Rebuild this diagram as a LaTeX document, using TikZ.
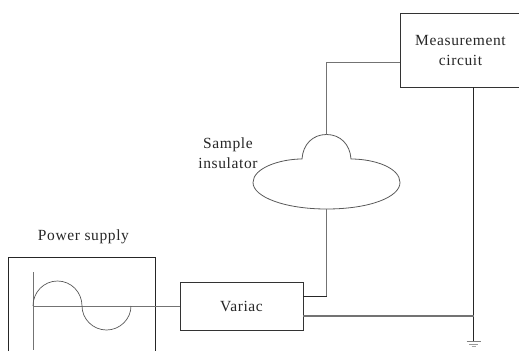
\documentclass[tikz,border=0pt]{standalone}
\usepackage{fontspec}
\setmainfont[LetterSpace=4]{Liberation Serif}
\tikzset{
  px/.style={x=1pt,y=-1pt},
  dk/.style={draw=black!85,line width=0.8pt},
  gy/.style={draw=black!55,line width=0.9pt},
  lbl/.style={font=\fontsize{15.5}{20.5}\selectfont,text=black!85,align=center,inner sep=0pt}
}
\begin{document}
\begin{tikzpicture}[px]
\useasboundingbox (0,0) rectangle (519,351);
\clip (0,0) rectangle (519,351);
\node[lbl] (ps) at (83.5,237) {Power supply};
\node[lbl] (si) at (228,153) {Sample\\insulator};
% power supply box, cut off by the lower edge
\coordinate (psbl) at (8.5,351);
\coordinate (psbr) at (155.5,351);
\draw[dk] (psbl) |- (155.5,257.5) -- (psbr);
% variac and measurement
\node[draw=black!80,line width=0.9pt,minimum width=123pt,minimum height=48pt,inner sep=0pt,lbl] (var) at (241.5,306) {Variac};
\node[draw=black!80,line width=0.9pt,minimum width=130pt,minimum height=74pt,inner sep=0pt,lbl] (meas) at (465.5,50) {};
\node[lbl] (mt) at (460.5,50.5) {Measurement\\circuit};
% axes and sine
\coordinate (axt) at (33,272);
\coordinate (axb) at (33,350);
\coordinate (ax0) at (33,306);
\draw[gy] (axt) -- (axb);
\draw[gy] (ax0) -- (ax0 -| var.west);
\draw[draw=black!65,line width=0.7pt] (33,306) .. controls (33,292) and (44,281) .. (57.5,281)
  .. controls (71,281) and (82,292) .. (82,306)
  .. controls (82,319) and (93,330) .. (106.5,330)
  .. controls (120,330) and (131,319) .. (131,306);
% insulator
\coordinate (domeL) at (302,159);
\coordinate (domeR) at (351,159);
\coordinate (domeT) at (326.5,134.5);
\coordinate (insB) at (326.5,209);
\draw[draw=black!65,line width=0.8pt] (domeL) .. controls (303,144) and (313,134.5) .. (domeT)
  .. controls (340,134.5) and (350,144) .. (domeR)
  .. controls (375,159) and (400,168) .. (400,182.5)
  .. controls (400,197) and (370,209) .. (insB)
  .. controls (285,209) and (253,197) .. (253,182.5)
  .. controls (253,168) and (280,159) .. (domeL) -- cycle;
% connectors
\draw[gy] (meas.west |- 0,62) -- (326.5,62) -- (domeT);
\coordinate (vs) at (var.east |- 0,296);
\draw[gy] (insB) -- (326.5,296) -- (vs);
\draw[dk] (vs) -- (326.5,296);
\coordinate (j) at (473.5,316);
\coordinate (gnd) at (473.5,341);
\draw[dk] (meas.south -| j) -- (gnd);
\draw[gy,line width=1.1pt] (var.east |- j) -- (j);
% ground
\draw[draw=black!50,line width=1pt] (466.5,341.5) -- (480.5,341.5);
\draw[draw=black!40,line width=1pt] (469,344) -- (478,344);
\draw[draw=black!35,line width=1pt] (471.5,346) -- (475.5,346);
\end{tikzpicture}
\end{document}
